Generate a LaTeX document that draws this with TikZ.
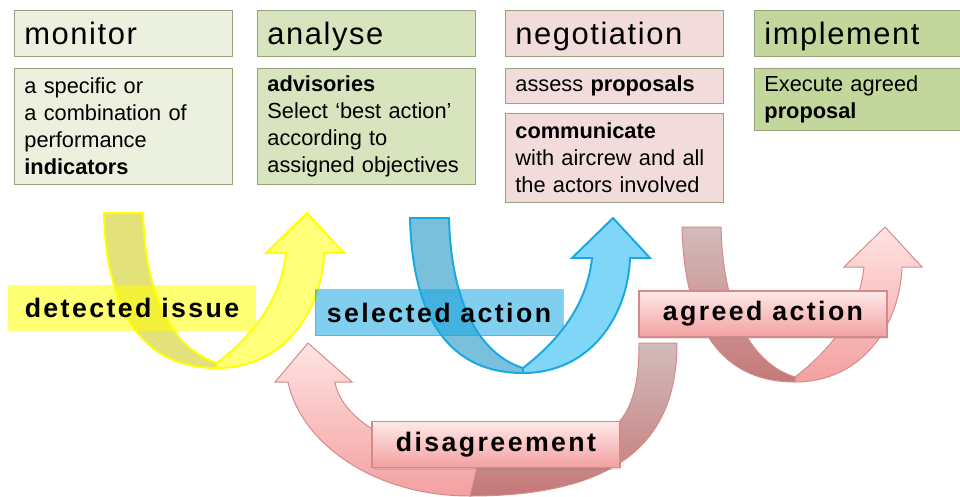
\documentclass[tikz,border=0pt]{standalone}
\usepackage{fontspec}
\setmainfont{Liberation Sans}
\newfontfamily\headfont{Liberation Sans}[LetterSpace=5]
\newfontfamily\tagfont{Liberation Sans}[LetterSpace=9]
\usetikzlibrary{shadows}

% box fills
\definecolor{monfill}{HTML}{EBF1DE}
\definecolor{anafill}{HTML}{D7E4BD}
\definecolor{negfill}{HTML}{F2DCDB}
\definecolor{impfill}{HTML}{C3D69B}
\definecolor{boxline}{HTML}{98A27E}
% arrow colours
\definecolor{yellowline}{HTML}{FFFF00}
\definecolor{yellowback}{HTML}{E3E27A}
\definecolor{yellowfront}{HTML}{FFFF7A}
\definecolor{blueline}{HTML}{1AA8E2}
\definecolor{blueback}{HTML}{78C0DC}
\definecolor{bluefront}{HTML}{80D6F7}
\definecolor{pinkline}{HTML}{D58A89}
\definecolor{pinkbacktop}{HTML}{D3BBBB}
\definecolor{pinkbackbot}{HTML}{C57878}
\definecolor{pinktop}{HTML}{FFE3E3}
\definecolor{pinkbot}{HTML}{F3A0A0}

\tikzset{
  stagehead/.style={draw=boxline, line width=0.6pt, anchor=north west,
    text width=4.95cm, inner xsep=0.25cm, minimum height=1.15cm, align=left,
    text height=0.55cm, text depth=0pt,
    font=\headfont\fontsize{22}{26}\selectfont},
  stagetext/.style={draw=boxline, line width=0.6pt, anchor=north west,
    text width=4.95cm, inner xsep=0.25cm, inner ysep=0pt, align=left,
    font=\fontsize{15.5}{19.2}\selectfont},
  flowtag/.style={minimum width=6.2cm, minimum height=1.15cm,
    font=\tagfont\bfseries\fontsize{19}{22}\selectfont},
  pinktag/.style={draw=pinkline, line width=0.8pt, top color=pinktop!80!white,
    bottom color=pinkbot, drop shadow={opacity=0.2, shadow xshift=0.02cm, shadow yshift=-0.05cm}},
  pinkback/.style={draw=pinkline, line width=0.7pt, top color=pinkbacktop, bottom color=pinkbackbot},
  pinkfront/.style={draw=pinkline, line width=0.7pt, top color=pinktop, bottom color=pinkbot}
}

% twisted U arrow, origin at the bottom of the bend
\newcommand{\twistarrow}[3]{%
  \begin{scope}[shift={#1}]
    \path[#2] (-113,-155) .. controls (-111,-68) and (-82,0) .. (0,0) -- (0,-5)
      .. controls (-42,-18) and (-72,-68) .. (-74,-155) -- cycle;
    \path[#3] (0,0) .. controls (68,0) and (105,-58) .. (107,-115) -- (127,-115)
      -- (90,-155) -- (49,-115) -- (69,-115) .. controls (63,-58) and (23,-23) .. (0,-5) -- cycle;
  \end{scope}}

\begin{document}
\begin{tikzpicture}[x=0.025cm, y=-0.025cm]
\useasboundingbox (0,0) rectangle (960,496);

% Stage boxes
\node[stagehead, fill=monfill] (monT) at (14,10) {monitor};
\node[stagetext, fill=monfill, minimum height=2.9cm] (monB) at (14,68)
  {a specific or\\ a combination of\\ performance\\ \textbf{indicators}};

\node[stagehead, fill=anafill] (anaT) at (257,10) {analyse};
\node[stagetext, fill=anafill, minimum height=2.9cm] (anaB) at (257,68)
  {\textbf{advisories}\\ Select ‘best action’\\ according to\\ assigned objectives};

\node[stagehead, fill=negfill] (negT) at (505,10) {negotiation};
\node[stagetext, fill=negfill, minimum height=0.875cm] (negA) at (505,68)
  {assess \textbf{proposals}};
\node[stagetext, fill=negfill, minimum height=2.225cm] (negC) at (505,113)
  {\textbf{communicate}\\ with aircrew and all\\ the actors involved};

\node[stagehead, fill=impfill] (impT) at (754,10) {implement};
\node[stagetext, fill=impfill, minimum height=1.55cm] (impB) at (754,68)
  {Execute agreed\\ \textbf{proposal}};

% detected issue
\twistarrow{(217,368)}{draw=yellowline, line width=1.4pt, fill=yellowback}{draw=none}
\node[flowtag, fill=yellowline, fill opacity=0.55, text opacity=1] (issue) at (132,307.5) {detected issue};
\twistarrow{(217,368)}{draw=none}{draw=yellowline, line width=1.4pt, fill=yellowfront}

% selected action
\twistarrow{(523,373)}{draw=blueline, line width=1.4pt, fill=blueback}{draw=none}
\node[flowtag, fill=blueline, fill opacity=0.55, text opacity=1, draw=blueline, draw opacity=0.5] (action) at (439,312.5) {selected action};
\twistarrow{(523,373)}{draw=none}{draw=blueline, line width=1.4pt, fill=bluefront}

% disagreement loop back to analyse
\path[pinkback] (677,343) .. controls (677,440) and (620,496) .. (470,496) -- (480,455)
  .. controls (610,456) and (639,430) .. (639,343) -- cycle;
\path[pinkfront] (470,496) .. controls (370,496) and (300,440) .. (288,382) -- (275,382)
  -- (308,343) -- (352,382) -- (335,382) .. controls (340,415) and (390,455) .. (480,455) -- cycle;
\node[flowtag, pinktag] (disagree) at (496,444.5) {disagreement};

% agreed action
\twistarrow{(795,382)}{pinkback}{pinkfront}
\node[flowtag, pinktag] (agreed) at (763,314) {agreed action};

\end{tikzpicture}
\end{document}
